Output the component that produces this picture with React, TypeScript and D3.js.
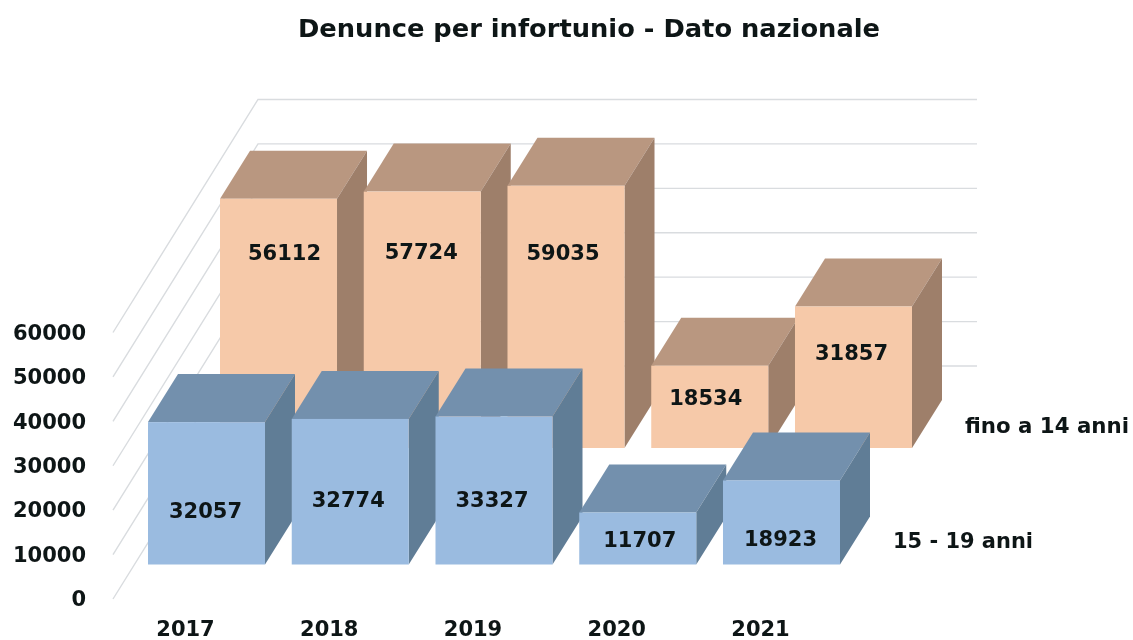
import { useEffect, useRef } from "react";
import * as d3 from "d3";

const years = ["2017", "2018", "2019", "2020", "2021"];
const backValues = [56112, 57724, 59035, 18534, 31857];
const frontValues = [32057, 32774, 33327, 11707, 18923];
const backName = "fino a 14 anni";
const frontName = "15 - 19 anni";
const yTicks = [0, 10000, 20000, 30000, 40000, 50000, 60000];

// hand placed labels in the original, offset from the middle of each bar face
const backNudge = [[6, -71], [-1, -68], [-3, -64], [-4, -9], [-2, -25]];
const frontNudge = [[-1, 17], [-2, 8], [-2, 9], [2, 1], [-1, 16]];

const FONT = "'DejaVu Sans', sans-serif";
const INK = "#111417";

const App = () => {
    const chartRef = useRef<SVGSVGElement | null>(null);

    useEffect(() => {
        const svg = d3.select(chartRef.current);
        svg.selectAll("*").remove();

        const blur = svg.append("defs").append("filter").attr("id", "soft");
        blur.append("feGaussianBlur").attr("stdDeviation", 0.5);

        const root = svg.append("g").attr("filter", "url(#soft)");

        const wallBase = 366;
        const wallHeight = 266.5;
        const wallLeft = 258;
        const wallRight = 977;
        const skewX = 145;
        const skewY = 233;

        const h = d3.scaleLinear().domain([0, 60000]).range([0, wallHeight]);

        // front row band positions, back row is the same shifted
        const x = d3.scaleBand().domain(years).range([148, 840]).paddingInner(0.186).paddingOuter(0);
        const depthX = 30;
        const depthY = 48;

        const bold = (sel: any, size: number) => sel
            .attr("fill", INK)
            .style("font-family", FONT)
            .style("font-size", size + "px")
            .style("font-weight", "bold");

        const grid = root.append("g")
            .attr("fill", "none")
            .attr("stroke", "#d9dcdf")
            .attr("stroke-width", 1.4);

        grid.selectAll("path")
            .data(yTicks)
            .enter()
            .append("path")
            .attr("d", d => {
                const y = wallBase - h(d);
                return d3.line()([[wallLeft - skewX, y + skewY], [wallLeft, y], [wallRight, y]]);
            });

        const drawRow = (values: number[], shiftX: number, baseY: number, nudge: number[][], fill: string[]) => {
            const bars = root.append("g")
                .selectAll("g")
                .data(values)
                .enter()
                .append("g");

            const left = (i: number) => x(years[i])! + shiftX;
            const w = x.bandwidth();

            bars.append("path")
                .attr("fill", fill[1])
                .attr("d", (d, i) => {
                    const top = baseY - h(d);
                    return d3.line()([
                        [left(i), top],
                        [left(i) + depthX, top - depthY],
                        [left(i) + w + depthX, top - depthY],
                        [left(i) + w, top],
                    ]) + "Z";
                });

            bars.append("path")
                .attr("fill", fill[2])
                .attr("d", (d, i) => {
                    const top = baseY - h(d);
                    return d3.line()([
                        [left(i) + w, top],
                        [left(i) + w + depthX, top - depthY],
                        [left(i) + w + depthX, baseY - depthY],
                        [left(i) + w, baseY],
                    ]) + "Z";
                });

            bars.append("rect")
                .attr("x", (d, i) => left(i))
                .attr("y", d => baseY - h(d))
                .attr("width", w)
                .attr("height", d => h(d))
                .attr("fill", fill[0]);

            bars.append("text")
                .attr("x", (d, i) => left(i) + w / 2 + nudge[i][0])
                .attr("y", (d, i) => baseY - h(d) / 2 + nudge[i][1])
                .attr("dy", "0.36em")
                .attr("text-anchor", "middle")
                .text(d => d)
                .call(bold, 21);
        };

        drawRow(backValues, 72, 448, backNudge, ["#f6c9a9", "#b99780", "#9e7f6b"]);
        drawRow(frontValues, 0, 564.5, frontNudge, ["#9abbe0", "#7390ad", "#617d96"]);

        // value axis sits on the front edge of the left wall
        const yAxis = d3.scaleLinear().domain([0, 60000]).range([wallBase + skewY, wallBase + skewY - wallHeight]);
        const axis = root.append("g")
            .attr("transform", "translate(86, 0)")
            .call(d3.axisLeft(yAxis).tickValues(yTicks).tickSize(0).tickPadding(0).tickFormat(d => String(d)));
        axis.select(".domain").remove();
        axis.selectAll("text").call(bold, 21);

        root.append("g")
            .selectAll("text")
            .data(years)
            .enter()
            .append("text")
            .attr("x", d => x(d)! + x.bandwidth() / 2 - 21)
            .attr("y", 636)
            .attr("text-anchor", "middle")
            .text(d => d)
            .call(bold, 21);

        root.append("text")
            .attr("x", 298)
            .attr("y", 37)
            .attr("textLength", 582)
            .attr("lengthAdjust", "spacingAndGlyphs")
            .text("Denunce per infortunio - Dato nazionale")
            .call(bold, 24);

        root.append("text")
            .attr("x", 965)
            .attr("y", 433)
            .attr("textLength", 164)
            .attr("lengthAdjust", "spacingAndGlyphs")
            .text(backName)
            .call(bold, 21);

        root.append("text")
            .attr("x", 893)
            .attr("y", 548)
            .attr("textLength", 140)
            .attr("lengthAdjust", "spacingAndGlyphs")
            .text(frontName)
            .call(bold, 21);

        return () => {
            d3.select(chartRef.current).selectAll("*").remove();
        };
    }, []);

    return (
        <svg
            ref={chartRef}
            width={1133}
            height={640}
            style={{ position: "absolute", left: 0, top: 0, background: "#fff" }}
        ></svg>
    );
};

export default App;
